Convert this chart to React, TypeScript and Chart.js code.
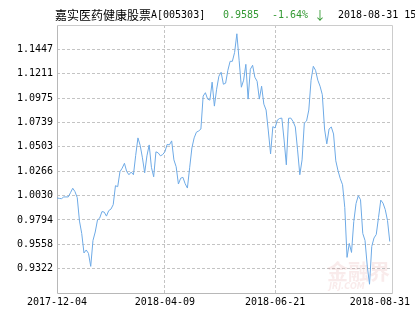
import React, { useEffect, useRef } from "react";
import { Chart, registerables } from "chart.js";

Chart.register(...registerables);

// ---- data ----
const fundName = "嘉实医药健康股票";
const fundCode = "A[005303]";
const latestValue = "0.9585";
const latestChange = "-1.64%";
const changeArrow = "↓";
const latestDate = "2018-08-31 15:00";

const xTickIndex = [0, 48, 97, 149];
const xTickLabels = ["2017-12-04", "2018-04-09", "2018-06-21", "2018-08-31"];
const xMax = 149;

const yTickLabels = [
  "0.9322", "0.9558", "0.9794", "1.0030", "1.0266",
  "1.0503", "1.0739", "1.0975", "1.1211", "1.1447",
];
const yMin = 0.9086;
const yMax = 1.1683;

const navValues = [
  1.0007, 1.0003, 1.0000, 1.0017, 1.0017, 1.0017, 1.0058, 1.0101, 1.0068, 1.0010,
  0.9783, 0.9663, 0.9474, 0.9503, 0.9470, 0.9344, 0.9595, 0.9677, 0.9793, 0.9812,
  0.9875, 0.9870, 0.9831, 0.9884, 0.9899, 0.9942, 1.0126, 1.0116, 1.0261, 1.0296,
  1.0343, 1.0263, 1.0232, 1.0258, 1.0232, 1.0420, 1.0589, 1.0516, 1.0396, 1.0251,
  1.0415, 1.0521, 1.0304, 1.0212, 1.0454, 1.0444, 1.0415, 1.0427, 1.0455, 1.0526,
  1.0521, 1.0560, 1.0376, 1.0309, 1.0142, 1.0198, 1.0207, 1.0145, 1.0103, 1.0299,
  1.0492, 1.0589, 1.0644, 1.0656, 1.0675, 1.0994, 1.1027, 1.0965, 1.0955, 1.1129,
  1.0897, 1.1061, 1.1187, 1.1225, 1.1109, 1.1119, 1.1244, 1.1331, 1.1331, 1.1418,
  1.1598, 1.1341, 1.1080, 1.1148, 1.1302, 1.0965, 1.1254, 1.1293, 1.1177, 1.1138,
  1.0965, 1.1090, 1.0916, 1.0859, 1.0656, 1.0434, 1.0698, 1.0685, 1.0762, 1.0777,
  1.0781, 1.0569, 1.0328, 1.0779, 1.0781, 1.0748, 1.0695, 1.0473, 1.0232, 1.0376,
  1.0733, 1.0753, 1.0859, 1.1148, 1.1283, 1.1244, 1.1148, 1.1090, 1.1008, 1.0675,
  1.0531, 1.0675, 1.0695, 1.0627, 1.0367, 1.0270, 1.0193, 1.0135, 0.9913, 0.9431,
  0.9566, 0.9479, 0.9778, 0.9952, 1.0029, 0.9990, 0.9663, 0.9595, 0.9347, 0.9171,
  0.9537, 0.9619, 0.9653, 0.9817, 0.9986, 0.9957, 0.9894, 0.9788, 0.9585,
];

const MONO = "'DejaVu Sans Mono', 'Liberation Mono', monospace";
const CJK = "'Noto Sans CJK SC', 'Noto Sans', sans-serif";
const GREEN = "#339933";
const LINE = "#6eaae6";
const GRID = "#c4c4c4";

const decorPlugin = {
  id: "decor",
  beforeDatasetsDraw(chart: any) {
    const { ctx, chartArea } = chart;
    const l = Math.round(chartArea.left) + 0.5;
    const r = Math.round(chartArea.right) + 0.5;
    const t = Math.round(chartArea.top) + 0.5;
    const b = Math.round(chartArea.bottom) + 0.5;
    ctx.save();
    ctx.setLineDash([]);
    ctx.lineWidth = 1;
    ctx.strokeStyle = "#cccccc";
    ctx.beginPath();
    ctx.moveTo(l, t);
    ctx.lineTo(r, t);
    ctx.lineTo(r, b);
    ctx.stroke();
    ctx.strokeStyle = "#b8b8b8";
    ctx.beginPath();
    ctx.moveTo(l, t);
    ctx.lineTo(l, b);
    ctx.lineTo(r, b);
    ctx.stroke();

    // watermark
    ctx.fillStyle = "rgba(215,120,120,0.15)";
    ctx.font = `bold 21px ${CJK}`;
    ctx.textBaseline = "middle";
    ctx.textAlign = "left";
    ctx.fillText("金融界", 327, 271);
    ctx.font = `italic bold 8px 'DejaVu Sans', sans-serif`;
    ctx.fillText("JRJ.COM", 329, 287);
    ctx.restore();
  },
  afterDraw(chart: any) {
    const { ctx } = chart;
    const xs = chart.scales.x;
    ctx.save();
    ctx.textBaseline = "middle";
    ctx.textAlign = "left";
    ctx.font = `10px ${MONO}`;
    ctx.fillStyle = "#000";
    xTickIndex.forEach((v, i) => {
      const label = xTickLabels[i];
      const w = ctx.measureText(label).width;
      let x = xs.getPixelForValue(v) - w / 2;
      if (x + w > chart.width - 5) x = chart.width - 5 - w;
      ctx.fillText(label, x, 302);
    });
    // title
    let x = 55;
    ctx.font = `12px ${CJK}`;
    ctx.fillStyle = "#000";
    ctx.fillText(fundName, x, 15);
    x += ctx.measureText(fundName).width;
    ctx.font = `10px ${MONO}`;
    ctx.fillText(fundCode, x, 15);
    ctx.fillStyle = GREEN;
    ctx.fillText(latestValue, 223, 15);
    ctx.fillText(latestChange, 272, 15);
    ctx.font = `12px ${CJK}`;
    ctx.fillText(changeArrow, 314, 15);
    ctx.fillStyle = "#000";
    ctx.font = `10px ${MONO}`;
    ctx.fillText(latestDate, 338, 15);
    ctx.restore();
  },
};

export default function App() {
  const ref = useRef<HTMLCanvasElement | null>(null);

  useEffect(() => {
    document.body.style.margin = "0";
    const canvas = ref.current;
    if (!canvas) return;
    const chart = new Chart(canvas, {
      type: "line",
      data: {
        datasets: [
          {
            data: navValues.map((v, i) => ({ x: i, y: v })),
            borderColor: LINE,
            borderWidth: 1,
            pointRadius: 0,
            tension: 0,
            fill: false,
          },
        ],
      },
      options: {
        responsive: false,
        animation: false,
        devicePixelRatio: 1,
        layout: { padding: { top: 25, right: 23, bottom: 0, left: 0 } },
        plugins: {
          legend: { display: false },
          tooltip: { enabled: false },
          title: { display: false },
        },
        scales: {
          x: {
            type: "linear",
            min: 0,
            max: xMax,
            afterBuildTicks: (s: any) => {
              s.ticks = xTickIndex.map((v) => ({ value: v }));
            },
            ticks: { display: false, autoSkip: false },
            grid: {
              drawTicks: false,
              color: (c: any) =>
                c.index === 0 || c.index === xTickIndex.length - 1 ? "rgba(0,0,0,0)" : GRID,
            },
            border: { display: false, dash: [3, 2] },
            afterFit: (s: any) => {
              s.height = 37;
              s.paddingLeft = 0;
              s.paddingRight = 0;
            },
          },
          y: {
            type: "linear",
            min: yMin,
            max: yMax,
            afterBuildTicks: (s: any) => {
              s.ticks = yTickLabels.map((t) => ({ value: parseFloat(t) }));
            },
            ticks: {
              autoSkip: false,
              padding: 4,
              color: "#000",
              font: { family: MONO, size: 10 },
              callback: (_v: any, i: number) => yTickLabels[i],
            },
            grid: { drawTicks: false, color: GRID },
            border: { display: false, dash: [3, 2] },
            afterFit: (s: any) => {
              s.width = 57;
              s.paddingTop = 0;
              s.paddingBottom = 0;
            },
          },
        },
      },
      plugins: [decorPlugin],
    } as any);
    return () => chart.destroy();
  }, []);

  return (
    <canvas
      ref={ref}
      width={415}
      height={330}
      style={{ display: "block", width: 415, height: 330 }}
    />
  );
}
